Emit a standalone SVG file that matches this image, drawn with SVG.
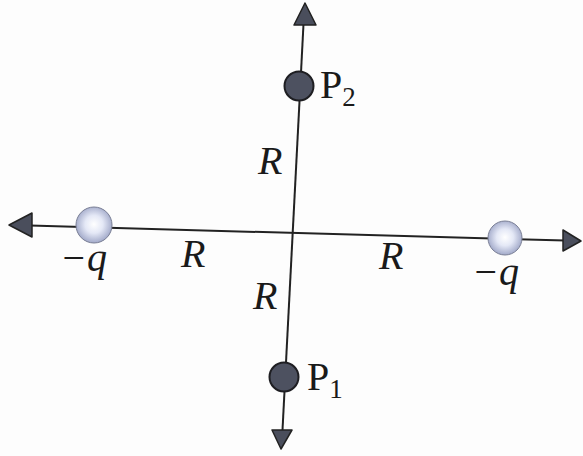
<svg xmlns="http://www.w3.org/2000/svg" width="583" height="456" viewBox="0 0 583 456">
<defs>
<style>
.ax{stroke:#222;stroke-width:2;fill:none}
.ah{fill:#4a4e5c;stroke:#222;stroke-width:1.5;stroke-linejoin:round}
.pt{fill:#4d5160;stroke:#1e1e22;stroke-width:2}
.ch{fill:url(#sph);stroke:#7a7f95;stroke-width:1}
.t{font-family:'Liberation Serif',serif;font-size:40px;fill:#1a1a1a}
.it{font-style:italic}
.sub{font-size:27px}
</style>
<radialGradient id="sph" cx="0.5" cy="0.48" r="0.55">
<stop offset="0" stop-color="#ffffff"/>
<stop offset="0.45" stop-color="#e4e8f6"/>
<stop offset="1" stop-color="#9aa2c4"/>
</radialGradient>
</defs>
<rect width="583" height="456" fill="#fdfdfd"/>
<g id="connectors">
<line class="ax" x1="30" y1="225.6" x2="565" y2="240.5"/>
<line class="ax" x1="303.5" y1="24" x2="282.5" y2="430"/>
<polygon class="ah" points="9,225 32,213 32,237"/>
<polygon class="ah" points="581,241 563,230 563,251"/>
<polygon class="ah" points="305,3 294,25 316,25"/>
<polygon class="ah" points="281,449 272,430 292,430"/>
</g>
<g id="charge-left">
<circle class="ch" cx="94" cy="225" r="18"/>
<text class="t it" x="60" y="271">−q</text>
</g>
<g id="charge-right">
<circle class="ch" cx="505" cy="238" r="17"/>
<text class="t it" x="472" y="285">−q</text>
</g>
<g id="P2">
<circle class="pt" cx="299" cy="86" r="14.5"/>
<text class="t" x="320" y="98">P<tspan class="sub" dy="8">2</tspan></text>
</g>
<g id="P1">
<circle class="pt" cx="284" cy="377" r="14.5"/>
<text class="t" x="307" y="390">P<tspan class="sub" dy="8">1</tspan></text>
</g>
<g id="labels">
<text class="t it" x="258" y="174">R</text>
<text class="t it" x="181" y="267">R</text>
<text class="t it" x="379" y="269">R</text>
<text class="t it" x="253" y="309">R</text>
</g>
</svg>
